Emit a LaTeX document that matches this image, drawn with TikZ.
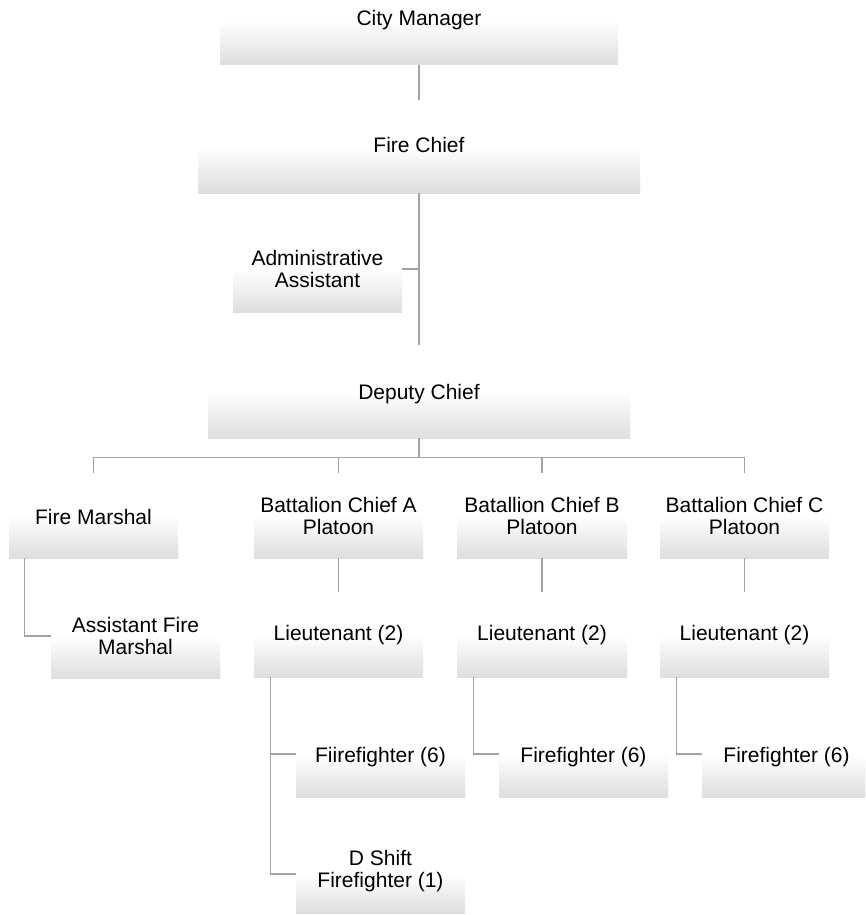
\documentclass[tikz,border=0pt]{standalone}
\usepackage{fontspec}
\setmainfont{Liberation Sans}
\definecolor{boxgray}{HTML}{DEDEDE}
\definecolor{linegray}{HTML}{A3A3A3}
\pgfdeclareverticalshading{boxshade}{100bp}{color(0bp)=(boxgray); color(25bp)=(boxgray); color(50bp)=(white); color(100bp)=(white)}
\tikzset{
  orgbox/.style={rectangle, draw=none, shade, shading=boxshade, inner sep=0pt},
  orglbl/.style={anchor=base, inner sep=0pt, font=\fontsize{21}{22}\selectfont},
  conn/.style={draw=linegray, line width=1.3pt},
}
\newcommand{\orgnode}[7]{%
  \node[orgbox, minimum width={(#3-#2)*1pt}, minimum height={(#5-#4)*1pt}] (#1) at ({(#2+#3)/2},{(#4+#5)/2}) {};
  \node[orglbl] (#1-t) at ({(#2+#3)/2},#6) {\begin{tabular}[t]{@{}c@{}}#7\end{tabular}};
}
\begin{document}
\begin{tikzpicture}[x=1pt,y=-1pt]
\clip (0,0) rectangle (865,915);
\fill[white] (0,0) rectangle (865,915);
\orgnode{cm}{220}{618}{-25}{65}{25.5}{City Manager}
\orgnode{fc}{198}{640}{100}{193}{152.5}{Fire Chief}
\orgnode{aa}{233}{402}{226}{312}{265.5}{Administrative\\Assistant}
\orgnode{dc}{208}{630}{345}{438}{399.5}{Deputy Chief}
\orgnode{fm}{9}{178}{473}{558}{524.5}{Fire Marshal}
\orgnode{ba}{254}{423}{473}{558}{512.5}{Battalion Chief A\\Platoon}
\orgnode{bb}{457}{627}{473}{558}{512.5}{Batallion Chief B\\Platoon}
\orgnode{bc}{660}{829}{473}{558}{512.5}{Battalion Chief C\\Platoon}
\orgnode{afm}{51}{220}{594}{678}{632.5}{Assistant Fire\\Marshal}
\orgnode{la}{254}{423}{592}{677}{640.5}{Lieutenant (2)}
\orgnode{lb}{457}{627}{592}{677}{640.5}{Lieutenant (2)}
\orgnode{lc}{660}{829}{592}{677}{640.5}{Lieutenant (2)}
\orgnode{ffa}{296}{465}{711}{797}{762.5}{Fiirefighter (6)}
\orgnode{dsa}{296}{465}{835}{913}{865.5}{D Shift\\Firefighter (1)}
\orgnode{ffb}{499}{668}{711}{797}{762.5}{Firefighter (6)}
\orgnode{ffc}{702}{871}{711}{797}{762.5}{Firefighter (6)}

\draw[conn] (cm.south) -- (fc.north);
\draw[conn] (fc.south) -- (dc.north);
\draw[conn] (aa.east) -- (aa.east -| fc.south);
\draw[conn] (dc.south) -- ++(0,19) coordinate (bus);
\draw[conn] (bus) -| (fm.north);
\draw[conn] (bus) -| (ba.north);
\draw[conn] (bus) -| (bb.north);
\draw[conn] (bus) -| (bc.north);
\draw[conn] (ba.south) -- (la.north);
\draw[conn] (bb.south) -- (lb.north);
\draw[conn] (bc.south) -- (lc.north);
\draw[conn] ([xshift=16pt]fm.south west) |- (afm.west);
\draw[conn] ([xshift=17pt]la.south west) |- (ffa.west);
\draw[conn] ([xshift=17pt]la.south west) |- (dsa.west);
\draw[conn] ([xshift=17pt]lb.south west) |- (ffb.west);
\draw[conn] ([xshift=17pt]lc.south west) |- (ffc.west);
\end{tikzpicture}
\end{document}
